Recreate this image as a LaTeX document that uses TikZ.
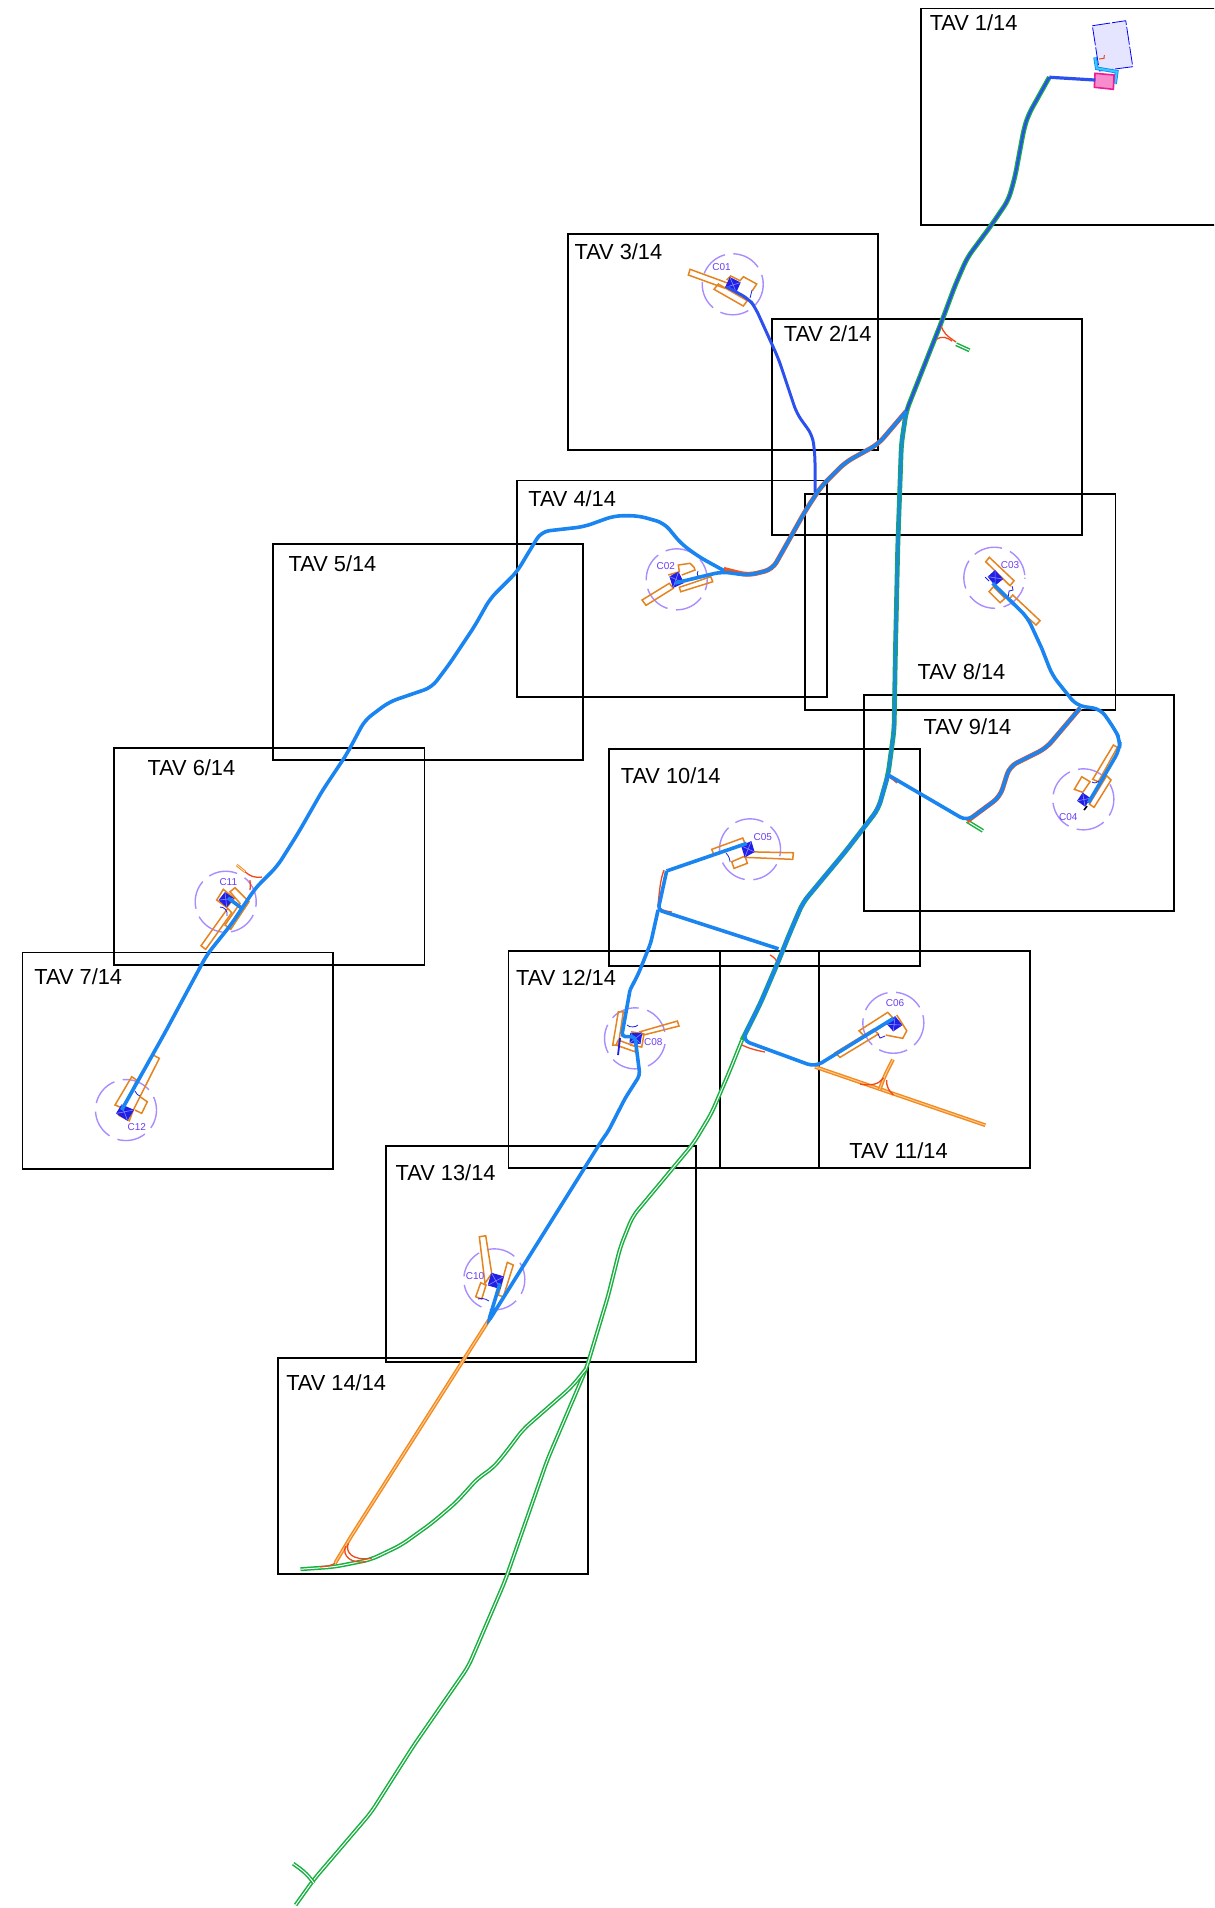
\documentclass[tikz,border=0pt]{standalone}
\usepackage{fontspec}
\setmainfont{Liberation Sans}
\definecolor{trackblue}{HTML}{1A84F0}
\definecolor{coreblue}{HTML}{2B50EE}
\definecolor{kernblue}{HTML}{1F1FE6}
\definecolor{roadgreen}{HTML}{18B040}
\definecolor{branchorange}{HTML}{F5891A}
\definecolor{filletred}{HTML}{F0481A}
\definecolor{platorange}{HTML}{E5831F}
\definecolor{ringpurple}{HTML}{A98CFF}
\definecolor{labelpurple}{HTML}{6A3CF5}
\definecolor{cyanwall}{HTML}{33CCFF}
\tikzset{
  tavbox/.style={draw=black, line width=0.95pt},
  tavlabel/.style={anchor=west, inner sep=0pt, font=\fontsize{10.9}{12}\selectfont},
  stnlabel/.style={inner sep=0pt, text=labelpurple, font=\fontsize{5}{6}\selectfont},
  fullpx/.style={x=0.5pt, y=-0.5pt},
  ring/.style={draw=ringpurple, line width=0.7pt, dash pattern=on 14.5pt off 4.3pt},
  plat/.style={draw=platorange, line width=0.75pt},
  kern/.style={draw=kernblue, line width=0.5pt, fill=kernblue},
  kernx/.style={draw=blue!45, line width=0.3pt},
  greenroad/.style={draw=roadgreen, double=white, double distance=0.5pt, line width=0.75pt, rounded corners=4pt},
  greenbed/.style={draw=roadgreen, line width=2.4pt, rounded corners=4pt},
  orangeroad/.style={draw=branchorange, double=branchorange!45, double distance=0.5pt, line width=0.7pt, rounded corners=3pt},
  orangebed/.style={draw=filletred!80!branchorange, line width=2.4pt, rounded corners=4pt},
  fillet/.style={draw=filletred, line width=0.65pt},
  track/.style={draw=trackblue, line width=1.8pt, rounded corners=4pt},
  coretrack/.style={draw=coreblue, line width=1.5pt, rounded corners=4pt},
  sliver/.style={draw=kernblue, line width=0.4pt},
}
\begin{document}
\begin{tikzpicture}[x=0.6082pt, y=-0.6082pt]
    \useasboundingbox (0,0) rectangle (998,1568.5);
    \clip (0,0) rectangle (998,1568.5);

    % Sheet frames
    \foreach \x/\y/\lx/\ly/\n in {757/7/764/19/1, 634.5/262/644/274/2, 467/192/472/207/3, 425/395/434/410/4,
        224.5/447/237/463/5, 94/615/121/631/6, 18.5/783/28/803/7, 662/406/754/552/8, 710/571/759/597/9,
        501/616/510/638/10, 592/782/698/946/11, 418/782/424/804/12, 317/942/325/964/13, 228.5/1116/235/1137/14} {
        \draw[tavbox] (\x,\y) rectangle ++(255,178);
        \node[tavlabel] (tav\n) at (\lx,\ly) {TAV \n/14};
    }

    % Station rings
    \begin{scope}[fullpx]
    \foreach \x/\y/\ph in {732.7/284.3/3, 676.7/579.3/9, 994.3/577.7/14, 1083.3/799.3/6, 750/849.3/11,
        893.3/1022.7/2, 635/1038.3/16, 494.3/1279.3/7, 225.7/901.7/12, 126/1110/5} {
        \draw[ring, dash phase=\ph pt] (\x,\y) circle (30.5);
    }

    % Platforms
    \draw[plat] (690,269.3) -- (688.3,275) -- (725,288.3) -- (728.3,283.3) -- cycle;
    \draw[plat] (714,289.3) -- (743.3,306) -- (747.3,300.7) -- (718.3,284) -- cycle;
    \draw[plat] (726.7,280) -- (730.7,276) -- (740,280.7) -- (743.3,276.7) -- (756.7,284) -- (752.3,290.7);
    \draw[plat] (642,600) -- (646,605.3) -- (673.3,588.3) -- (669.3,583.3) -- cycle;
    \draw[plat] (679.3,587.3) -- (710.7,576.7) -- (712.7,581.7) -- (680.7,591.7) -- cycle;
    \draw[plat] (668.3,575) -- (679.3,571.7) -- (678.3,565) -- (690,563.3) -- (694,567.3) -- (695,570) -- (681.7,575);
    \draw[plat] (985.7,561.7) -- (989.3,557.3) -- (1014,580.7) -- (1010,585.7) -- cycle;
    \draw[plat] (1012.7,595) -- (1040,620.7) -- (1036,625) -- (1008.3,600) -- cycle;
    \draw[plat] (989,591.7) -- (993.3,586.7) -- (1005,598.3) -- (1000,602.7) -- cycle;
    \draw[plat] (1113.3,745) -- (1117.3,747.3) -- (1098.3,781.7) -- (1092.7,779.3) -- cycle;
    \draw[plat] (1106.7,775.7) -- (1111,780) -- (1094,807.3) -- (1089.3,804) -- cycle;
    \draw[plat] (1081.7,776.7) -- (1090,781.7) -- (1082.7,792.3) -- (1074.3,789.3) -- cycle;
    \draw[plat] (711.7,849.3) -- (742.7,838) -- (745,843.3) -- (714,855) -- cycle;
    \draw[plat] (731.7,861.7) -- (745,856) -- (747.3,863.3) -- (734,868.3) -- cycle;
    \draw[plat] (746,851.7) -- (793.3,852.7) -- (792.7,859.3) -- (745,857.3) -- cycle;
    \draw[plat] (859,1030.7) -- (887.7,1012.3) -- (893.3,1018.3) -- (879.3,1028.3) -- (865,1036.7) -- cycle;
    \draw[plat] (835,1052.7) -- (840,1057.3) -- (878.3,1034) -- (873.3,1029.3) -- cycle;
    \draw[plat] (885.7,1035) -- (902.7,1038.3) -- (906.7,1030.7) -- (896.7,1015);
    \draw[plat] (618.3,1011.7) -- (623.3,1011.7) -- (618.3,1045) -- (612.7,1045) -- cycle;
    \draw[plat] (616,1045) -- (635,1051.7) -- (636,1046.7) -- (618.3,1040) -- cycle;
    \draw[plat] (640,1031.7) -- (677.3,1021) -- (679,1026) -- (643.3,1035) -- cycle;
    \draw[plat] (631,1031.7) -- (644,1034) -- (641.7,1047) -- (630,1045);
    \draw[plat] (479.3,1236.7) -- (485.7,1235.7) -- (491.7,1273.3) -- (485,1283.3) -- cycle;
    \draw[plat] (480.7,1282.7) -- (486,1285) -- (481.7,1299) -- (475.7,1296.7) -- cycle;
    \draw[plat] (507.3,1262.3) -- (513.3,1265) -- (503.3,1296.7) -- (498.3,1295) -- cycle;
    \draw[plat] (230,891.7) -- (235,887.7) -- (249,901.7) -- (230.7,929.3) -- (225,925) -- (240,903.3) -- cycle;
    \draw[plat] (216.7,900) -- (223.3,889.3) -- (234.3,898.3) -- (226.7,907.3) -- cycle;
    \draw[plat] (201,945.7) -- (205.7,949.3) -- (231.7,912.7) -- (227.7,908.3) -- cycle;
    \draw[plat] (153.3,1055) -- (159.3,1058.3) -- (133.3,1110) -- (129.3,1120.7) -- (118.3,1115);
    \draw[plat] (140,1096.7) -- (147.3,1101.7) -- (141.7,1113.3) -- (135,1110);
    \draw[plat] (131.7,1076.7) -- (136.7,1080) -- (123.3,1108.3) -- (115,1105) -- cycle;

    % Thin service lines
    \draw[sliver] (752,290) -- (750,298);
    \draw[sliver] (698,571) .. controls (696,575) and (698,577) .. (702,577);
    \draw[sliver] (1008,598) -- (1009,591) -- (1013,590) -- (1012,586);
    \draw[sliver] (985,577) -- (989,581);
    \draw[sliver] (1092,782) .. controls (1095,784) and (1097,782) .. (1099,781);
    \draw[sliver] (726,853) .. controls (729,856) and (730,860) .. (730,862);
    \draw[sliver] (878,1034) -- (880,1038) -- (885,1036);
    \draw[sliver] (627,1025) .. controls (630,1028) and (636,1027) .. (638,1025);
    \draw[sliver] (489,1301) .. controls (485,1298) and (480,1298) .. (478,1299);
    \draw[sliver] (220,907) .. controls (224,907) and (228,910) .. (227,916);
    \draw[sliver] (135,1091) .. controls (136,1094) and (138,1095) .. (140,1096);
    \draw[line width=0.8pt, black] (1087,806) -- (1084,810);
    \draw[kernblue, line width=0.9pt] (620,1038) -- (618,1055);

    % Station blocks
    \foreach \ax/\ay/\bx/\by/\cx/\cy/\dx/\dy in {730/277.7/740/282.7/736/291.7/725.7/287.3,
        670/576.7/678.3/572.3/683.3/582.7/673.3/587.3, 988.3/576.7/995/570.7/1002.3/579/995/585,
        1082.7/793.3/1090/798.3/1085/806/1077.7/800.7, 741.7/846/751/841.7/754/851.7/745/856.7,
        887.7/1024.3/895/1016.7/901.7/1025/893.3/1030.7, 630.7/1033.3/641.7/1033.3/640/1043.3/630/1042.7,
        491.7/1273.3/503.3/1276.7/500/1288.3/488.3/1285, 219.3/900/225/892.7/233.3/898.3/226.7/906.7,
        121.7/1105/133.3/1110/127.3/1120/116.7/1113.3} {
        \draw[kern] (\ax,\ay) -- (\bx,\by) -- (\cx,\cy) -- (\dx,\dy) -- cycle;
        \draw[kernx] (\ax,\ay) -- (\cx,\cy) (\bx,\by) -- (\dx,\dy);
    }

    % Depot at TAV 1
    \draw[draw=blue, fill=blue!10, line width=0.4pt, dash pattern=on 9pt off 1pt] (1092.3,25.7) -- (1125.7,20.7) -- (1132.7,66.7) -- (1099.3,71) -- cycle;
    \draw[draw=filletred, line width=0.5pt] (1099,59) -- (1104,58.3) -- (1104.3,55);
    \draw[draw=trackblue, double=cyanwall, double distance=1pt, line width=0.4pt] (1095,57.3) -- (1096.7,68.3) -- (1116.7,71.7) -- (1115,84);
    \draw[draw=magenta!90!white, fill=magenta!45, line width=0.8pt] (1095,73.3) -- (1114,75) -- (1113.3,89.3) -- (1094.3,87.3) -- cycle;
    \end{scope}

    % Green road
    \draw[greenbed] (862.6,63.5) -- (845.3,94.5) -- (841.8,105.6) -- (834.4,145.3) -- (829,164.4) -- (815,185) -- (795,212) -- (785,235) -- (775,262) -- (760,300) -- (745,338) -- (741,365) -- (738,450) -- (736,540) -- (735,600) -- (730,637) -- (722,665) -- (695,700) -- (680,718) -- (660,742) -- (648,770) -- (640,790) -- (625,825) -- (610,855);
    \draw[greenroad] (610,855) -- (600,880) -- (585,915) -- (570,940) -- (520,1000) -- (510,1025) -- (500,1065) -- (482,1125) -- (450,1200) -- (415,1300) -- (385,1370) -- (340,1435) -- (305,1490) -- (258,1545) -- (243,1566);
    \draw[greenroad] (241,1532) -- (252,1540) -- (258,1548);
    \draw[greenroad] (482,1125) -- (470,1140) -- (430,1175) -- (415,1195) -- (405,1207) -- (393,1215) -- (375,1235) -- (355,1252) -- (330,1270) -- (305,1282) -- (275,1288) -- (247,1290);
    \draw[greenroad] (786,283) -- (797,288);
    \draw[greenroad] (795,675) -- (808,683);

    % Orange branches
    \draw[orangebed] (745,338) -- (722,365) -- (695,380) -- (675,400) -- (662,420) -- (648,445) -- (635,468) -- (615,473) -- (595,468);
    \draw[orangebed] (888,582) -- (860,615) -- (830,630) -- (822,655) -- (795,675);
    \draw[orangeroad] (402,1085) -- (288,1264) -- (275.5,1285);
    \draw[orangeroad] (670,877) -- (810,925);
    \draw[orangeroad] (734,871) -- (727,885) -- (723,896);

    % Fillets
    \begin{scope}[fullpx]
    \draw[fillet] (860,1084) .. controls (872,1086) and (879,1084) .. (883.3,1078);
    \draw[fillet] (886.7,1080) .. controls (886,1086) and (889,1091) .. (893.3,1095);
    \draw[fillet] (335,1563.3) .. controls (330,1566) and (325,1566.5) .. (320,1566.7);
    \draw[fillet] (348.3,1543.3) .. controls (345,1552) and (352,1561) .. (371.7,1558.3);
    \draw[fillet] (345.5,1546) .. controls (342,1556) and (351,1564) .. (366,1561.5);
    \draw[draw=branchorange, double=white, double distance=0.3pt, line width=0.5pt] (236.7,865) -- (245,871.7);
    \draw[fillet] (245,871.7) .. controls (250,876) and (254,878) .. (262,877);
    \draw[fillet] (250,880) .. controls (250,884) and (251,887) .. (250,890);
    \draw[fillet] (937,339) .. controls (941,336) and (947,337) .. (952,341);
    \draw[fillet] (941,325) .. controls (943,333) and (947,336) .. (956,342);
    \draw[fillet] (742,1045) .. controls (748,1048) and (755,1050) .. (765,1052);
    \draw[fillet] (770,955) .. controls (774,957) and (777,960) .. (778,965);
    \draw[fillet] (664,870) .. controls (661,878) and (660,884) .. (658,905);
    \draw[fillet] (660,908) .. controls (663,911) and (667,911) .. (672,912);
    \draw[fillet] (889,777) .. controls (892,779) and (895,781) .. (897,783);
    \end{scope}

    % Blue tracks
    \draw[draw=coreblue, line width=1.6pt] (862.6,63.5) -- (900.5,65.8);
    \draw[coretrack, line width=1.2pt] (862.6,63.5) -- (845.3,94.5) -- (841.8,105.6) -- (834.4,145.3) -- (829,164.4) -- (815,185) -- (795,212) -- (785,235) -- (775,262) -- (760,300) -- (745,338);
    \draw[track, trackblue!80!roadgreen] (745,338) -- (741,365) -- (738,450) -- (736,540) -- (735,600) -- (730,637);
    \draw[track] (730,637) -- (722,665) -- (695,700) -- (680,718) -- (660,742) -- (648,770) -- (640,790) -- (625,825) -- (610,855) -- (670,877) -- (734.4,837.2);
    \draw[track] (730,637) -- (795,675) -- (822,655) -- (830,630) -- (860,615) -- (888,582);
    \draw[track] (856.4,533) -- (865,555) -- (885,580) -- (905,583) -- (916.6,600) -- (920.8,608.3) -- (920.2,616.6) -- (894.7,660);
    \draw[track] (816,479.5) -- (844.6,507.5) -- (856.4,533);
    \draw[track, rounded corners=1pt] (548,716) -- (613.9,693.3);
    \draw[track, rounded corners=2pt] (548,716) -- (541,748) -- (640,780);
    \draw[track, rounded corners=2pt] (517.9,813.9) -- (511,852.2) -- (522,852.2) -- (526,883.8) -- (513.8,903) -- (500,930) -- (495,937) -- (401.4,1086.6) -- (411,1055);
    \draw[track, rounded corners=2pt] (541,748) -- (535,775) -- (525,800) -- (517.9,813.9);
    \draw[coretrack] (597.6,236) -- (615.8,245.8) -- (621,253) -- (640,295) -- (655,340) -- (668,358) -- (670,375) -- (670,405);
    \draw[track] (745,338) -- (722,365) -- (695,380) -- (675,400) -- (662,420) -- (648,445) -- (635,468) -- (615,473) -- (593.3,470) -- (555,479.3);
    \draw[track] (595,469) -- (575,458) -- (560,447) -- (546,430) -- (525,424) -- (505,424) -- (480,433) -- (445,437) -- (437,450) -- (425,470) -- (403,492) -- (390,515) -- (370,545) -- (355,565) -- (320,577) -- (300,592) -- (285,620) -- (265,650) -- (245,685) -- (228,712) -- (210,730) -- (190,760) -- (170,785) -- (135,850) -- (100,912.5);
    \draw[track, rounded corners=1pt] (187.4,738.2) -- (198.7,746.5);

    % Station names
    \begin{scope}[fullpx]
    \foreach \x/\y/\n in {721.5/267.5/C01, 665.7/566/C02, 1010/565.3/C03, 1068.3/816.7/C04, 762.7/837.3/C05,
        895/1003.3/C06, 653.3/1042.3/C08, 475/1276/C10, 228.3/882.3/C11, 136.7/1127.3/C12} {
        \node[stnlabel] (\n) at (\x,\y) {\n};
    }
    \end{scope}
\end{tikzpicture}
\end{document}
